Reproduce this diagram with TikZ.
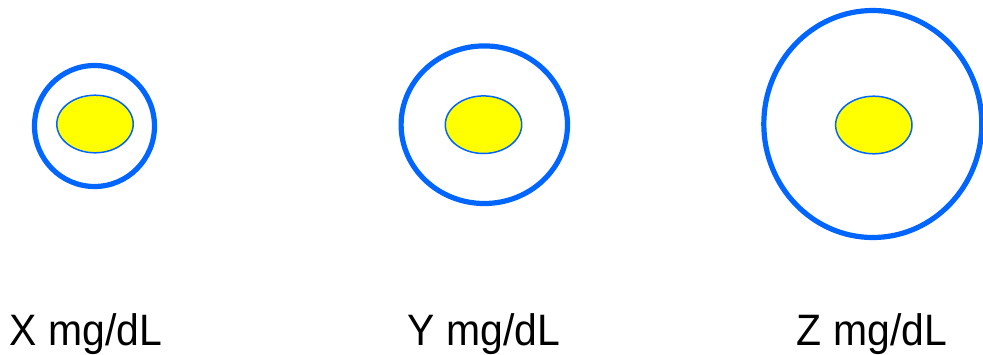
\documentclass[tikz,border=0pt]{standalone}
\usepackage{fontspec}
\setmainfont{Liberation Sans}
\newfontfamily\labelfont[FakeStretch=0.93]{Liberation Sans}
\definecolor{cellblue}{HTML}{0066FF}
\definecolor{nucyellow}{HTML}{FFFF00}
\tikzset{
  membrane/.style={draw=cellblue, line width=5.2pt},
  nucleus/.style={draw=cellblue, fill=nucyellow, line width=1.5pt},
  conclabel/.style={anchor=base, font=\labelfont\fontsize{44}{52}\selectfont, inner sep=0pt}
}
\begin{document}
\begin{tikzpicture}[x=1pt, y=-1pt]
  \useasboundingbox (0,0) rectangle (983,354);

  % cells: centre / membrane radii / nucleus centre
  \foreach \cx/\cy/\rx/\ry/\nx/\ny in {94.5/126/60/60.5/95/124,
                                       484.3/124.7/83.2/78.8/483.5/124.7,
                                       872.8/124/109/113.5/873.8/125} {
    \draw[membrane] (\cx,\cy) ellipse [x radius=\rx, y radius=\ry];
    \draw[nucleus] (\nx,\ny) ellipse [x radius=38.2, y radius=28.8];
  }

  % concentration labels
  \node[conclabel] (labx) at (86,345) {X mg/dL};
  \node[conclabel] (laby) at (484,345) {Y mg/dL};
  \node[conclabel] (labz) at (872,345) {Z mg/dL};
\end{tikzpicture}
\end{document}
